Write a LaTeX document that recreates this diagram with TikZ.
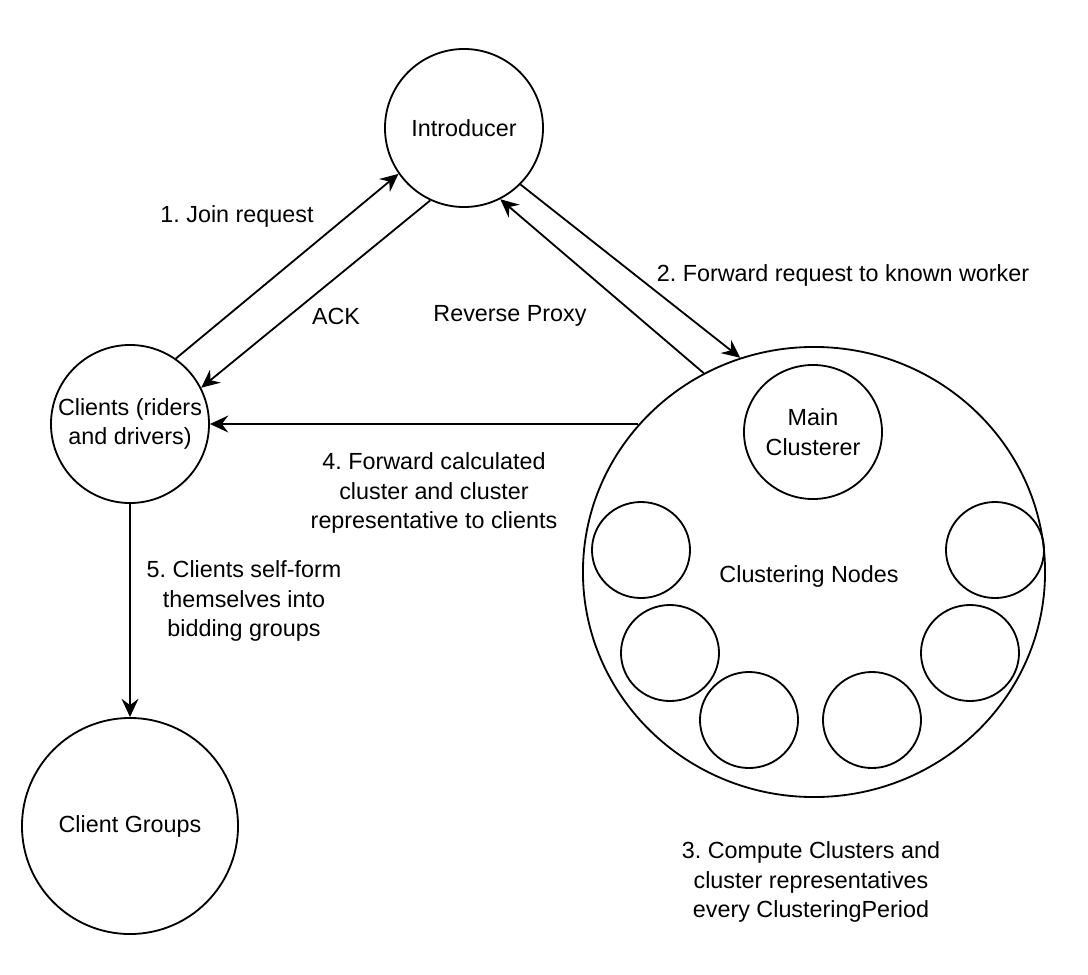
\documentclass[tikz,border=0pt]{standalone}
\usepackage{fontspec}
\setmainfont{Liberation Sans}
\usetikzlibrary{arrows.meta,shapes.geometric}
\frenchspacing

\tikzset{
	every node/.style={font=\fontsize{16.6}{21}\selectfont},
	circ/.style={draw, circle, line width=1.3pt, inner sep=0pt, align=center},
	oval/.style={draw, ellipse, line width=1.3pt, inner sep=0pt, align=center},
	arr/.style={-{Stealth[length=13pt,width=12pt,inset=4.5pt]}, line width=1.3pt},
	lbl/.style={align=center}
}

\begin{document}
\begin{tikzpicture}[x=0.025cm, y=-0.025cm]
	\useasboundingbox (0,0) rectangle (1088,975);

	\node[circ, minimum size=3.95cm] (intro) at (464,128) {Introducer};
	\node[circ, minimum size=3.95cm] (clients) at (130,424) {Clients (riders\\and drivers)};
	\node[circ, minimum size=5.4cm] (groups) at (130,826) {Client Groups};

	\node[oval, minimum width=11.55cm, minimum height=11.25cm] (cluster) at (814,572) {};
	\node (cnodes) at (809,576) {Clustering Nodes};
	\node[oval, minimum width=3.45cm, minimum height=3.35cm] (mainc) at (813,432) {Main\\Clusterer};
	\foreach \x/\y [count=\i] in {641/550, 995/550, 670/653, 970/653, 749/720, 872/720}
		\node[oval, minimum width=2.45cm, minimum height=2.4cm] (worker\i) at (\x,\y) {};

	\node[lbl] (joinlbl) at (237,216) {1. Join request};
	\node[lbl] (acklbl) at (336,316) {ACK};
	\node[lbl] (proxylbl) at (510,316) {Reverse Proxy};
	\node[lbl] (fwdlbl) at (843,275) {2. Forward request to known worker};
	\node[lbl] (calclbl) at (434,493) {4. Forward calculated\\cluster and cluster\\representative to clients};
	\node[lbl] (selflbl) at (244,601) {5. Clients self-form\\themselves into\\bidding groups};
	\node[lbl] (periodlbl) at (811,882) {3. Compute Clusters and\\cluster representatives\\every ClusteringPeriod};

	\draw[arr] (clients.55) -- (intro.215);
	\draw[arr] (intro.245) -- (clients.27);
	\draw[arr] (intro.-45) -- (cluster.109);
	\draw[arr] (cluster.119) -- (intro.-63);
	\draw[arr] (clients.east -| cluster.140) -- (clients.east);
	\draw[arr] (clients) -- (groups);
\end{tikzpicture}
\end{document}
